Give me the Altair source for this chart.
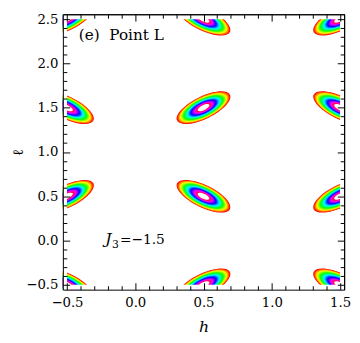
import altair as alt
import pandas as pd

# ---- data ----
peak_h = [-0.5, 0.5, 1.5, -0.5, 0.5, 1.5, -0.5, 0.5, 1.5, -0.5, 0.5, 1.5]
peak_l = [-0.5, -0.5, -0.5, 0.5, 0.5, 0.5, 1.5, 1.5, 1.5, 2.5, 2.5, 2.5]
peak_tilt = ["down", "up", "down", "up", "down", "up",
             "down", "up", "down", "up", "down", "up"]

# contour levels (normalised height of the peak) and hue colour map
levels = [0.00, 0.04, 0.08, 0.12, 0.16, 0.20, 0.24, 0.28, 0.32, 0.36, 0.40,
          0.44, 0.48, 0.52, 0.56, 0.60, 0.64, 0.68, 0.72, 0.76, 0.80, 0.84,
          0.88, 0.92, 0.96]
top_level = [1.0]
hue_stops = [0.0, 1 / 6, 2 / 6, 3 / 6, 4 / 6, 5 / 6, 1.0]
hue_colors = ["#ff0000", "#ffff00", "#00ff00", "#00ffff", "#0000ff",
              "#ff00ff", "#ff0000"]

x_major = [-0.5, 0.0, 0.5, 1.0, 1.5]
y_major = [-0.5, 0.0, 0.5, 1.0, 1.5, 2.0, 2.5]
x_minor = [round(-0.5 + 0.1 * i, 1) for i in range(21) if i % 5]
y_minor = [round(-0.5 + 0.1 * i, 1) for i in range(31) if i % 5]

plot_h = [-0.5, 1.5]
plot_l = [-0.5, 2.5]
x_dom = [-0.53, 1.53]
y_dom = [-0.555, 2.555]

note_text = ["(e)\u00a0 Point L"]
note_h = [-0.413]
note_l = [2.26]
j_text = ["J", "3", "=\u22121.5"]
j_h = [-0.22]
j_l = [-0.035]

# ---- tables ----
peaks = pd.DataFrame({"h": peak_h, "l": peak_l, "tilt": peak_tilt})
rings = peaks.merge(pd.DataFrame({"level": levels}), how="cross")
holes = peaks.merge(pd.DataFrame({"level": top_level}), how="cross")
covers = pd.DataFrame({
    "x1": [x_dom[0], plot_h[1], x_dom[0], x_dom[0]],
    "x2": [plot_h[0], x_dom[1], x_dom[1], x_dom[1]],
    "y1": [y_dom[0], y_dom[0], y_dom[0], plot_l[1]],
    "y2": [y_dom[1], y_dom[1], plot_l[0], y_dom[1]],
})
note_df = pd.DataFrame({"h": note_h, "l": note_l, "t": note_text})
j_df = pd.DataFrame({"h": j_h, "l": j_l})

W, H = 287, 281
xs = alt.Scale(domain=x_dom, nice=False, zero=False)
ys = alt.Scale(domain=y_dom, nice=False, zero=False)
ELLIPSE = "M -1 0 A 1 0.38 0 1 1 1 0 A 1 0.38 0 1 1 -1 0 Z"
FONT = "DejaVu Serif"

calc = dict(
    size="pow(60 * (1 - 0.78 * datum.level), 2)",
    angle="datum.tilt == 'up' ? 334 : 26",
)

ring_layer = alt.Chart(rings).transform_calculate(**calc).mark_point(
    shape=ELLIPSE, filled=True, opacity=1, strokeWidth=0, clip=True
).encode(
    x=alt.X("h:Q", scale=xs, axis=None),
    y=alt.Y("l:Q", scale=ys, axis=None),
    color=alt.Color("level:Q", scale=alt.Scale(domain=hue_stops, range=hue_colors,
                                               interpolate="rgb"), legend=None),
    size=alt.Size("size:Q", scale=None),
    angle=alt.Angle("angle:Q", scale=None),
    order=alt.Order("level:Q", sort="ascending"),
)

hole_layer = alt.Chart(holes).transform_calculate(**calc).mark_point(
    shape=ELLIPSE, filled=True, opacity=1, strokeWidth=0, clip=True, color="white"
).encode(
    x=alt.X("h:Q", scale=xs, axis=None),
    y=alt.Y("l:Q", scale=ys, axis=None),
    size=alt.Size("size:Q", scale=None),
    angle=alt.Angle("angle:Q", scale=None),
)

cover_layer = alt.Chart(covers).mark_rect(color="white").encode(
    x=alt.X("x1:Q", scale=xs, axis=None), x2="x2:Q",
    y=alt.Y("y1:Q", scale=ys, axis=None), y2="y2:Q",
)

note_layer = alt.Chart(note_df).mark_text(
    font=FONT, fontSize=15.5, align="left", baseline="alphabetic", color="black"
).encode(
    x=alt.X("h:Q", scale=xs, axis=None),
    y=alt.Y("l:Q", scale=ys, axis=None),
    text="t:N",
)

def j_layer(txt, dx, dy, size, style):
    return alt.Chart(j_df).mark_text(
        font=FONT, fontSize=size, fontStyle=style, align="left",
        baseline="alphabetic", color="black", dx=dx, dy=dy
    ).encode(
        x=alt.X("h:Q", scale=xs, axis=None),
        y=alt.Y("l:Q", scale=ys, axis=None),
        text=alt.value(txt),
    )

j_layers = [j_layer(j_text[0], 0, 0, 16, "italic"),
            j_layer(j_text[1], 7, 4, 11, "normal"),
            j_layer(j_text[2], 15, 0, 14, "normal")]

def axis_layer(xaxis, yaxis):
    return alt.Chart(peaks).mark_point(opacity=0).encode(
        x=alt.X("h:Q", scale=xs, axis=xaxis),
        y=alt.Y("l:Q", scale=ys, axis=yaxis),
    )

common = dict(grid=False, labelFlush=False, labelOverlap=False, zindex=2,
              tickColor="black", domainColor="black", labelColor="black",
              tickWidth=1, domainWidth=1)

label_axes = axis_layer(
    alt.Axis(orient="bottom", offset=0, values=x_major, format=".1f", ticks=False,
             domain=True, labelPadding=6, labelFont=FONT, labelFontSize=13.5,
             title="h", titleFont=FONT, titleFontSize=16, titleFontStyle="italic",
             titleFontWeight="normal", titlePadding=10, titleColor="black", **common),
    alt.Axis(orient="left", offset=0, values=y_major, format=".1f", ticks=False,
             domain=True, labelPadding=5, labelFont=FONT, labelFontSize=13.5,
             title="\u2113", titleFont=FONT, titleFontSize=15,
             titleFontWeight="normal", titlePadding=0, titleColor="black", **common),
)

def tick_axes(xvals, yvals, size, far):
    # far=False: ticks on bottom/left edges pointing inward
    xo = "bottom" if far else "top"
    yo = "left" if far else "right"
    return axis_layer(
        alt.Axis(orient=xo, offset=-H, values=xvals, labels=False, ticks=True,
                 tickSize=size, domain=far, title=None, **common),
        alt.Axis(orient=yo, offset=-W, values=yvals, labels=False, ticks=True,
                 tickSize=size, domain=far, title=None, **common),
    )

chart = alt.layer(
    ring_layer, hole_layer, cover_layer, note_layer, *j_layers,
    label_axes,
    tick_axes(x_major, y_major, 7, False),
    tick_axes(x_minor, y_minor, 4, False),
    tick_axes(x_major, y_major, 7, True),
    tick_axes(x_minor, y_minor, 4, True),
).resolve_axis(x="independent", y="independent").properties(
    width=W, height=H,
    autosize=alt.AutoSizeParams(type="none"),
    padding={"left": 56, "top": 3, "right": 8, "bottom": 50},
    background="white",
).configure_view(stroke=None)

chart.save("out.html", embed_options={"renderer": "svg", "actions": False})
